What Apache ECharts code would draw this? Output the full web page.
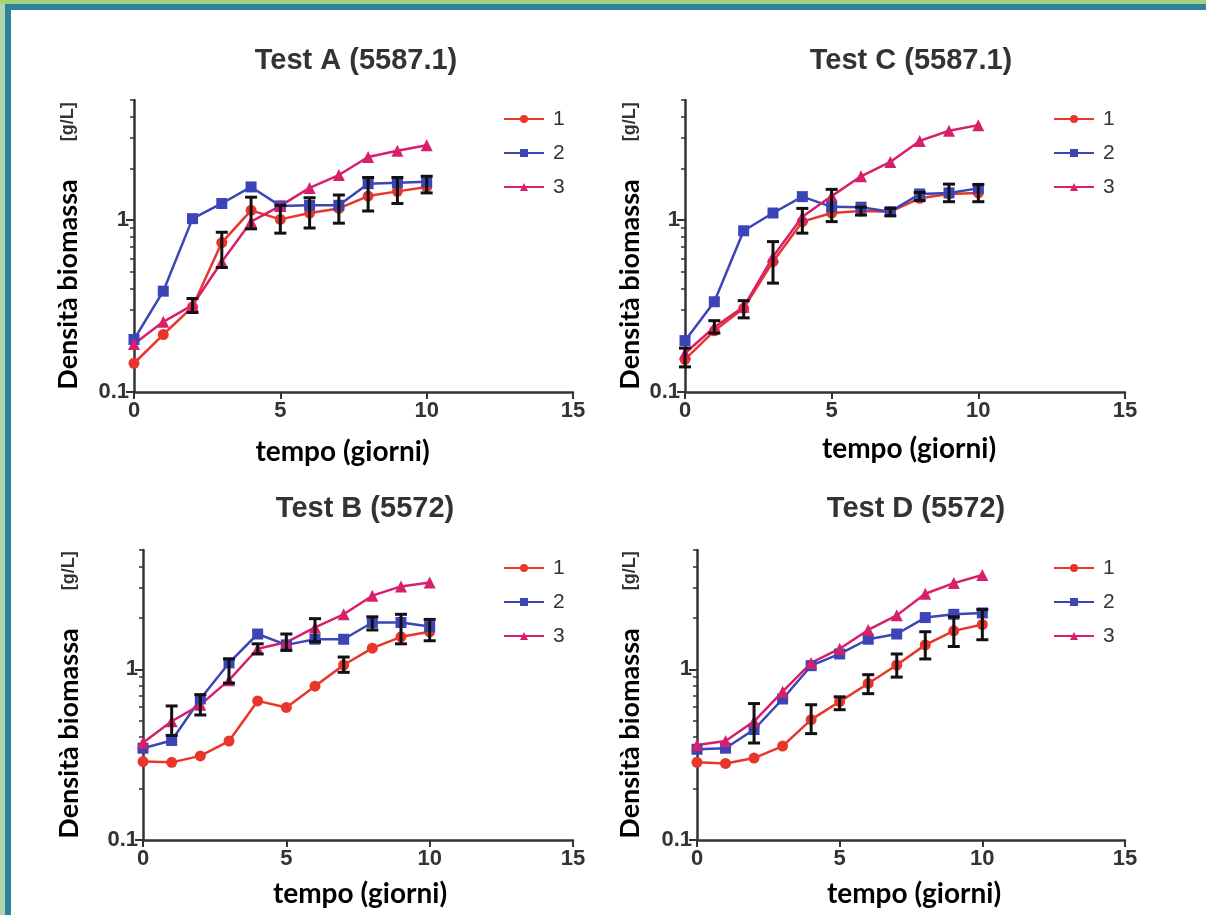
<!DOCTYPE html>
<html>
<head>
<meta charset="utf-8">
<script src="https://cdn.jsdelivr.net/npm/echarts@6/dist/echarts.min.js"></script>
<style>
  html, body { margin: 0; padding: 0; background: #fff; }
  #frame { position: absolute; left: 0; top: 0; width: 1206px; height: 915px; overflow: hidden; }
  .b1 { position: absolute; left: 0; top: 0; width: 1206px; height: 4px; background: #a3d47b; }
  .b2 { position: absolute; left: 5px; top: 4px; width: 1201px; height: 6px; background: #2f829e; }
  .b3 { position: absolute; left: 0; top: 4px; width: 5px; height: 911px; background: #b0d6aa; }
  .b4 { position: absolute; left: 5px; top: 10px; width: 6px; height: 905px; background: #2f829e; }
  #chart { position: absolute; left: 0; top: 0; width: 1206px; height: 915px; }
</style>
</head>
<body>
<div id="frame">
  <div class="b1"></div><div class="b2"></div><div class="b3"></div><div class="b4"></div>
  <div id="chart"></div>
</div>
<script>
// giorni
var days = [0, 1, 2, 3, 4, 5, 6, 7, 8, 9, 10];
var yLabels = [0.1, 1];
var yMinor = [0.2, 0.3, 0.4, 0.5, 0.6, 0.7, 0.8, 0.9, 2, 3, 4, 5];
var serieNames = ['1', '2', '3'];

// Test A (5587.1)
var testA_1 = [0.147, 0.216, 0.313, 0.74, 1.14, 1.01, 1.10, 1.17, 1.38, 1.47, 1.56];
var testA_2 = [0.202, 0.386, 1.02, 1.25, 1.56, 1.21, 1.22, 1.22, 1.63, 1.65, 1.67];
var testA_3 = [0.19, 0.256, 0.32, 0.573, 0.98, 1.21, 1.54, 1.83, 2.33, 2.53, 2.73];
var testA_err = [[2, 0.29, 0.35], [3, 0.53, 0.85], [4, 0.89, 1.36], [5, 0.84, 1.22], [6, 0.90, 1.35],
                 [7, 0.96, 1.40], [8, 1.13, 1.77], [9, 1.25, 1.77], [10, 1.44, 1.80]];

// Test C (5587.1)
var testC_1 = [0.155, 0.227, 0.307, 0.573, 0.98, 1.10, 1.13, 1.12, 1.34, 1.42, 1.44];
var testC_2 = [0.199, 0.335, 0.867, 1.10, 1.37, 1.195, 1.19, 1.12, 1.42, 1.44, 1.53];
var testC_3 = [0.168, 0.238, 0.313, 0.612, 1.045, 1.38, 1.80, 2.18, 2.89, 3.31, 3.57];
var testC_err = [[0, 0.14, 0.18], [1, 0.22, 0.26], [2, 0.27, 0.34], [3, 0.43, 0.75], [4, 0.84, 1.17],
                 [5, 0.98, 1.51], [6, 1.07, 1.19], [7, 1.06, 1.17], [8, 1.30, 1.45], [9, 1.28, 1.62], [10, 1.28, 1.61]];

// Test B (5572)
var testB_1 = [0.288, 0.285, 0.311, 0.38, 0.653, 0.598, 0.797, 1.06, 1.33, 1.55, 1.66];
var testB_2 = [0.345, 0.383, 0.67, 1.09, 1.61, 1.39, 1.50, 1.50, 1.88, 1.88, 1.78];
var testB_3 = [0.371, 0.496, 0.619, 0.864, 1.32, 1.44, 1.76, 2.10, 2.70, 3.06, 3.23];
var testB_err = [[1, 0.41, 0.61], [2, 0.54, 0.71], [3, 0.83, 1.15], [4, 1.23, 1.41], [5, 1.29, 1.61],
                 [6, 1.45, 1.98], [7, 0.96, 1.18], [8, 1.70, 2.03], [9, 1.41, 2.10], [10, 1.47, 1.96]];

// Test D (5572)
var testD_1 = [0.285, 0.281, 0.302, 0.355, 0.507, 0.647, 0.826, 1.06, 1.39, 1.68, 1.83];
var testD_2 = [0.34, 0.345, 0.444, 0.67, 1.05, 1.23, 1.50, 1.61, 2.01, 2.10, 2.14];
var testD_3 = [0.36, 0.38, 0.496, 0.74, 1.09, 1.32, 1.70, 2.07, 2.77, 3.20, 3.57];
var testD_err = [[2, 0.37, 0.63], [4, 0.42, 0.62], [5, 0.58, 0.69], [6, 0.72, 0.93], [7, 0.90, 1.23],
                 [8, 1.15, 1.66], [9, 1.36, 2.03], [10, 1.49, 2.24]];

var colori = ['#e8362b', '#3b45b6', '#d81f6c'];
var simboli = ['circle', 'rect', 'triangle'];

var pannelli = [
  { titolo: 'Test A (5587.1)', dati: [testA_1, testA_2, testA_3], err: testA_err,
    grid: { left: 134, top: 100, width: 439, height: 292 }, titleX: 351, titleY: 41,
    legX: 503, legY: 107, yGap: 52, xGap: 46, xPad: [0, 22, 0, 0] },
  { titolo: 'Test C (5587.1)', dati: [testC_1, testC_2, testC_3], err: testC_err,
    grid: { left: 685, top: 100, width: 440, height: 292 }, titleX: 906, titleY: 41,
    legX: 1053, legY: 107, yGap: 41, xGap: 43, xPad: [0, 0, 0, 8] },
  { titolo: 'Test B (5572)', dati: [testB_1, testB_2, testB_3], err: testB_err,
    grid: { left: 143, top: 550, width: 430, height: 290 }, titleX: 360, titleY: 489,
    legX: 503, legY: 556, yGap: 60, xGap: 40, xPad: [0, 0, 0, 4] },
  { titolo: 'Test D (5572)', dati: [testD_1, testD_2, testD_3], err: testD_err,
    grid: { left: 697, top: 550, width: 428, height: 290 }, titleX: 911, titleY: 489,
    legX: 1053, legY: 556, yGap: 53, xGap: 40, xPad: [0, 0, 0, 6] }
];

var assi = '#333';

function etichetta(margin, valori) {
  var l = {
    margin: margin, color: '#333', fontFamily: 'Liberation Sans', fontWeight: 'bold', fontSize: 22,
    formatter: function (v) { return String(v); }
  };
  if (valori) l.customValues = valori;
  return l;
}

var option = { animation: false, title: [], legend: [], grid: [], xAxis: [], yAxis: [], series: [] };

pannelli.forEach(function (p, i) {
  option.title.push({
    text: p.titolo, left: p.titleX, top: p.titleY, textAlign: 'center',
    textStyle: { fontFamily: 'Liberation Sans', fontWeight: 'bold', fontSize: 29, color: '#333' }
  });
  option.grid.push(p.grid);
  option.legend.push({
    data: serieNames, orient: 'vertical', left: p.legX, top: p.legY, padding: 0,
    itemWidth: 40, itemHeight: 10, itemGap: 10, selectedMode: false,
    textStyle: { fontFamily: 'Liberation Sans', fontSize: 21, color: '#333', lineHeight: 24, padding: [0, 0, 0, 4] }
  });
  option.xAxis.push({
    type: 'value', gridIndex: i, min: 0, max: 15, interval: 5,
    name: 'tempo (giorni)', nameLocation: 'middle', nameGap: p.xGap,
    nameTextStyle: { fontFamily: 'Lato', fontWeight: 'bold', fontSize: 28, color: '#000', padding: p.xPad },
    axisLine: { lineStyle: { color: assi, width: 2.5 } },
    axisTick: { length: 7, lineStyle: { color: assi, width: 2 } },
    axisLabel: etichetta(8),
    splitLine: { show: false }
  });
  // asse principale: etichette 0.1 e 1
  option.yAxis.push({
    type: 'log', logBase: 10, gridIndex: i, min: 0.1, max: 5,
    name: '{a|Densità biomassa}{b|[g/L]}', nameLocation: 'middle', nameGap: p.yGap,
    nameTextStyle: {
      rich: {
        a: { fontFamily: 'Lato', fontWeight: 'bold', fontSize: 27, color: '#000' },
        b: { fontFamily: 'Liberation Sans', fontWeight: 'bold', fontSize: 18, color: '#333', padding: [0, 0, 0, 38] }
      }
    },
    axisLine: { lineStyle: { color: assi, width: 2.5 } },
    axisTick: { length: 8, customValues: yLabels, lineStyle: { color: assi, width: 2 } },
    axisLabel: etichetta(5, yLabels),
    splitLine: { show: false }
  });
  // tacche minori
  option.yAxis.push({
    type: 'log', logBase: 10, gridIndex: i, min: 0.1, max: 5, position: 'left',
    axisLine: { show: false },
    axisTick: { length: 4, customValues: yMinor, lineStyle: { color: assi, width: 1.5 } },
    axisLabel: { show: false },
    splitLine: { show: false }
  });
  p.dati.forEach(function (valori, k) {
    option.series.push({
      name: serieNames[k], type: 'line', xAxisIndex: i, yAxisIndex: i * 2,
      data: days.map(function (d, j) { return [d, valori[j]]; }),
      symbol: simboli[k], symbolSize: k === 2 ? 12 : 11,
      lineStyle: { color: colori[k], width: 2.5 },
      itemStyle: { color: colori[k] }, z: 2
    });
  });
  option.series.push({
    type: 'custom', xAxisIndex: i, yAxisIndex: i * 2, z: 3,
    data: p.err, encode: { x: 0, y: [1, 2] },
    renderItem: function (params, api) {
      var x = api.value(0);
      var lo = api.coord([x, api.value(1)]);
      var hi = api.coord([x, api.value(2)]);
      var w = 6;
      var st = { stroke: '#111', lineWidth: 3 };
      return {
        type: 'group', children: [
          { type: 'line', shape: { x1: lo[0], y1: lo[1], x2: hi[0], y2: hi[1] }, style: st },
          { type: 'line', shape: { x1: hi[0] - w, y1: hi[1], x2: hi[0] + w, y2: hi[1] }, style: st },
          { type: 'line', shape: { x1: lo[0] - w, y1: lo[1], x2: lo[0] + w, y2: lo[1] }, style: st }
        ]
      };
    }
  });
});

var chart = echarts.init(document.getElementById('chart'));
chart.setOption(option);
</script>
</body>
</html>
